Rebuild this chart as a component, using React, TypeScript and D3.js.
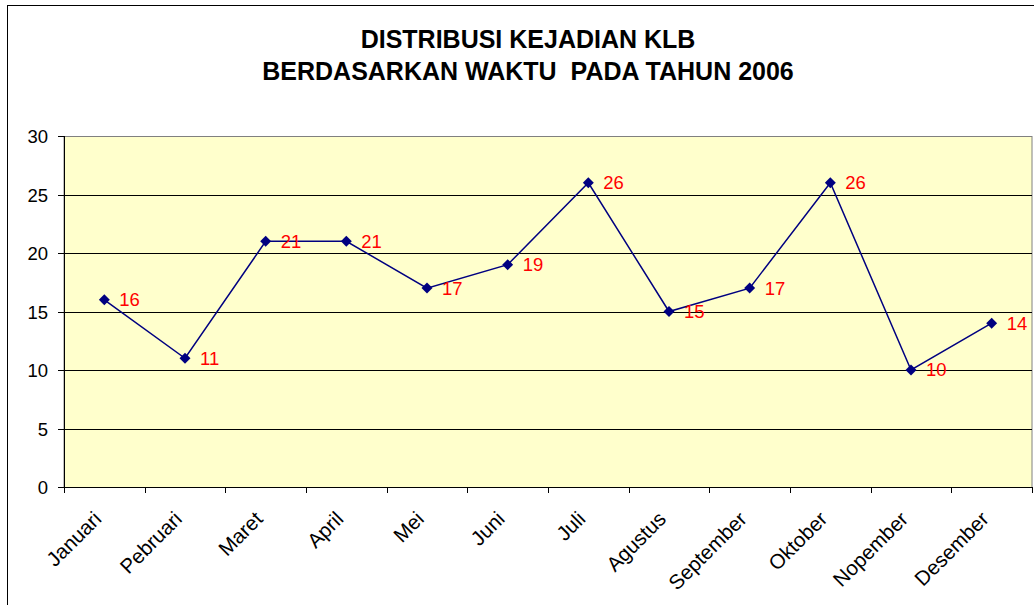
import React, { useEffect, useRef } from "react";
import * as d3 from "d3";

const months = [
  "Januari", "Pebruari", "Maret", "April", "Mei", "Juni",
  "Juli", "Agustus", "September", "Oktober", "Nopember", "Desember",
];
const kejadian = [16, 11, 21, 21, 17, 19, 26, 15, 17, 26, 10, 14];
const yTicks = [0, 5, 10, 15, 20, 25, 30];
const titleLines = ["DISTRIBUSI KEJADIAN KLB", "BERDASARKAN WAKTU  PADA TAHUN 2006"];

export default function App() {
  const svgRef = useRef<SVGSVGElement | null>(null);

  useEffect(() => {
    const svg = d3.select(svgRef.current);
    svg.selectAll("*").remove();

    const width = 1034, height = 605;
    const plot = { left: 64, right: 1032, top: 136, bottom: 487 };
    const font = "Arial, 'Liberation Sans', sans-serif";

    // chart frame (continues past the right and bottom edge)
    svg.append("rect")
      .attr("x", 7.5).attr("y", 5.5)
      .attr("width", width + 50).attr("height", height + 50)
      .attr("fill", "white").attr("stroke", "black");

    svg.selectAll(".title")
      .data(titleLines)
      .enter()
      .append("text")
      .attr("x", 528)
      .attr("y", (d, i) => 48 + i * 32)
      .attr("text-anchor", "middle")
      .attr("font-family", font)
      .attr("font-weight", "bold")
      .attr("font-size", "25px")
      .style("white-space", "pre")
      .text(d => d);

    const x = d3.scaleBand().domain(months).range([plot.left, plot.right]);
    const y = d3.scaleLinear().domain([0, 30]).range([plot.bottom, plot.top]);

    svg.append("rect")
      .attr("x", plot.left).attr("y", plot.top + 0.5)
      .attr("width", plot.right - plot.left).attr("height", plot.bottom - plot.top)
      .attr("fill", "#FFFFCC")
      .attr("stroke", "#808080");

    // gridlines
    svg.selectAll(".grid")
      .data(yTicks.filter(t => t > 0 && t < 30))
      .enter()
      .append("line")
      .attr("x1", plot.left).attr("x2", plot.right)
      .attr("y1", d => Math.round(y(d)) + 0.5).attr("y2", d => Math.round(y(d)) + 0.5)
      .attr("stroke", "black");

    // y axis
    const yAxis = svg.append("g");
    yAxis.append("line")
      .attr("x1", plot.left + 0.5).attr("x2", plot.left + 0.5)
      .attr("y1", plot.top).attr("y2", plot.bottom + 0.5)
      .attr("stroke", "black");
    yTicks.forEach(t => {
      const yy = Math.round(y(t)) + 0.5;
      yAxis.append("line")
        .attr("x1", plot.left - 6).attr("x2", plot.left)
        .attr("y1", yy).attr("y2", yy)
        .attr("stroke", "black");
      yAxis.append("text")
        .attr("x", 48).attr("y", yy)
        .attr("dy", "0.35em")
        .attr("text-anchor", "end")
        .attr("font-family", font)
        .attr("font-size", "18.5px")
        .text(t);
    });

    // x axis
    const xAxis = svg.append("g");
    xAxis.append("line")
      .attr("x1", plot.left).attr("x2", plot.right + 1)
      .attr("y1", plot.bottom + 0.5).attr("y2", plot.bottom + 0.5)
      .attr("stroke", "black");
    const bounds = months.map(m => x(m) as number).concat([plot.right]);
    bounds.forEach(b => {
      xAxis.append("line")
        .attr("x1", Math.round(b) + 0.5).attr("x2", Math.round(b) + 0.5)
        .attr("y1", plot.bottom).attr("y2", plot.bottom + 6)
        .attr("stroke", "black");
    });
    months.forEach(m => {
      const cx = (x(m) as number) + x.bandwidth() / 2;
      xAxis.append("text")
        .attr("transform", `translate(${cx - 12},${plot.bottom + 23}) rotate(-45)`)
        .attr("dy", "0.71em")
        .attr("text-anchor", "end")
        .attr("font-family", font)
        .attr("font-size", "20.5px")
        .text(m);
    });

    // series
    const cxOf = (i: number) => (x(months[i]) as number) + x.bandwidth() / 2;
    const line = d3.line<number>()
      .x((d, i) => cxOf(i))
      .y(d => y(d));
    svg.append("path")
      .datum(kejadian)
      .attr("d", line)
      .attr("fill", "none")
      .attr("stroke", "#000080")
      .attr("stroke-width", 1.5);

    const marker = d3.symbol().type(d3.symbolSquare).size(60);
    svg.selectAll(".pt")
      .data(kejadian)
      .enter()
      .append("path")
      .attr("d", marker)
      .attr("transform", (d, i) => `translate(${cxOf(i)},${y(d)}) rotate(45)`)
      .attr("fill", "#000080");

    svg.selectAll(".lbl")
      .data(kejadian)
      .enter()
      .append("text")
      .attr("x", (d, i) => cxOf(i) + 15)
      .attr("y", d => y(d))
      .attr("dy", "0.35em")
      .attr("font-family", font)
      .attr("font-size", "18.5px")
      .attr("fill", "#FF0000")
      .text(d => d);
  }, []);

  return (
    <svg ref={svgRef} width={1034} height={605}
      style={{ position: "absolute", left: 0, top: 0 }}></svg>
  );
}
